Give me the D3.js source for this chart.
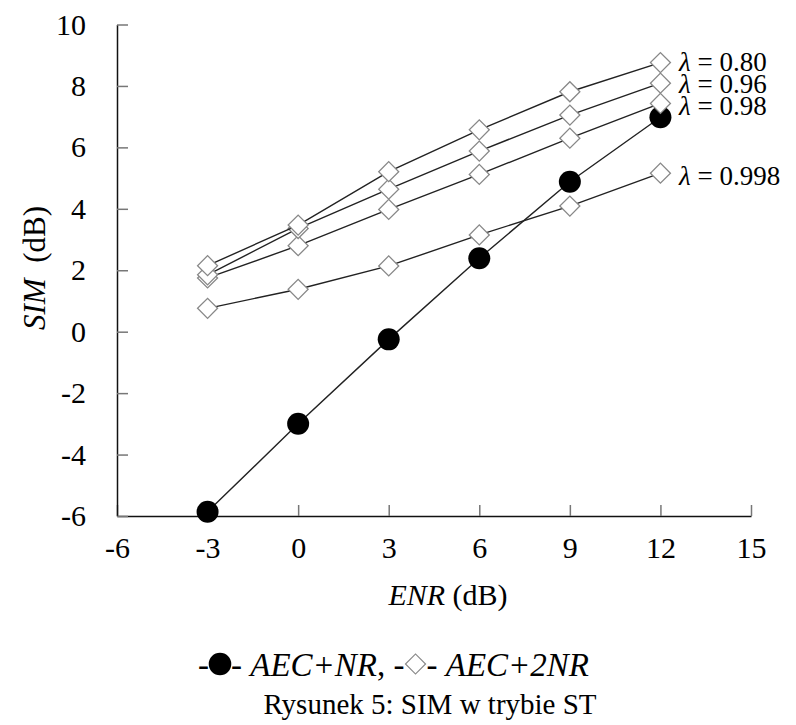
<!DOCTYPE html>
<html>
<head>
<meta charset="utf-8">
<script src="https://cdn.jsdelivr.net/npm/d3@7"></script>
<style>
body { margin:0; background:#fff; }
text { fill:#000; }
.tick line { stroke:#777; stroke-width:1.5; }
.domain { stroke:#111; stroke-width:1.5; }
</style>
</head>
<body>
<div class="container"></div>
<script>
const W = 796, H = 725;
const FONT = "Liberation Serif, Times New Roman, serif";

// data
var enr      = [-3, 0, 3, 6, 9, 12];
var aecNr    = [-5.86, -3.0, -0.25, 2.39, 4.88, 6.98];
var lam080   = [2.15, 3.47, 5.21, 6.57, 7.81, 8.76];
var lam096   = [1.85, 3.36, 4.64, 5.88, 7.05, 8.09];
var lam098   = [1.75, 2.80, 3.98, 5.12, 6.30, 7.43];
var lam0998  = [0.76, 1.38, 2.14, 3.15, 4.09, 5.16];
var lamValues = ["0.80", "0.96", "0.98", "0.998"];
var xTicks = [-6, -3, 0, 3, 6, 9, 12, 15];
var yTicks = [-6, -4, -2, 0, 2, 4, 6, 8, 10];

var svg = d3.select(".container").append("svg")
    .attr("width", W)
    .attr("height", H)
    .attr("font-family", FONT);

var x = d3.scaleLinear().domain([-6, 15]).range([117, 751]);
var y = d3.scaleLinear().domain([-6, 10]).range([516, 24.5]);

// axes, ticks pointing inward
svg.append("g")
    .attr("transform", "translate(0," + y(-6) + ")")
    .call(d3.axisBottom(x).tickValues(xTicks).tickFormat(d => String(d))
        .tickSize(-11).tickSizeOuter(0).tickPadding(21))
    .attr("font-family", FONT).attr("font-size", 30);

svg.append("g")
    .attr("transform", "translate(" + x(-6) + ",0)")
    .call(d3.axisLeft(y).tickValues(yTicks).tickFormat(d => String(d))
        .tickSize(-11).tickSizeOuter(0).tickPadding(31))
    .attr("font-family", FONT).attr("font-size", 30);

var line = d3.line().x((d, i) => x(enr[i])).y(d => y(d));
var diamond = d3.symbol().type(d3.symbolSquare).size(200);
var dot = d3.symbol().type(d3.symbolCircle).size(380);

var drawDiamonds = function(vals) {
    svg.append("path").datum(vals).attr("d", line)
        .attr("fill", "none").attr("stroke", "#222").attr("stroke-width", 1.4);
    svg.selectAll(null).data(vals).enter().append("path")
        .attr("d", diamond)
        .attr("transform", (d, i) => "translate(" + x(enr[i]) + "," + y(d) + ") rotate(45)")
        .attr("fill", "#fff").attr("stroke", "#888").attr("stroke-width", 1.3);
};

var drawDots = function(vals) {
    svg.append("path").datum(vals).attr("d", line)
        .attr("fill", "none").attr("stroke", "#222").attr("stroke-width", 1.4);
    svg.selectAll(null).data(vals).enter().append("path")
        .attr("d", dot)
        .attr("transform", (d, i) => "translate(" + x(enr[i]) + "," + y(d) + ")")
        .attr("fill", "#000");
};

drawDiamonds(lam0998);
drawDots(aecNr);
drawDiamonds(lam098);
drawDiamonds(lam096);
drawDiamonds(lam080);

// lambda labels
var labelY = [62, 84, 106, 176];
lamValues.forEach(function(v, i) {
    var t = svg.append("text").attr("x", 679).attr("y", labelY[i]).attr("dy", "0.35em")
        .attr("font-size", 27);
    t.append("tspan").attr("font-style", "italic").text("\u03bb");
    t.append("tspan").text(" = " + v);
});

// axis titles
var xt = svg.append("text").attr("x", 448).attr("y", 594).attr("dy", "0.35em")
    .attr("text-anchor", "middle").attr("font-size", 30);
xt.append("tspan").attr("font-style", "italic").text("ENR");
xt.append("tspan").text(" (dB)");

var yt = svg.append("text").attr("transform", "translate(34,268) rotate(-90)").attr("dy", "0.35em")
    .attr("text-anchor", "middle").attr("font-size", 31);
yt.append("tspan").attr("font-style", "italic").text("SIM");
yt.append("tspan").text("\u00a0\u00a0(dB)");

// legend
var lg = svg.append("g");
var cx = 198, ly = 664;
var addText = function(t, italic) {
    var tx = lg.append("text").attr("x", cx).attr("y", ly).attr("dy", "0.35em")
        .attr("font-size", 33).attr("font-style", italic ? "italic" : "normal").text(t);
    cx += tx.node().getComputedTextLength();
};
addText("-", false);
lg.append("path").attr("d", d3.symbol().type(d3.symbolCircle).size(400))
    .attr("transform", "translate(" + (cx + 11) + "," + ly + ")").attr("fill", "#000");
cx += 22;
addText("-\u00a0", false);
addText("AEC+NR", true);
addText(", -", false);
lg.append("path").attr("d", d3.symbol().type(d3.symbolSquare).size(200))
    .attr("transform", "translate(" + (cx + 11) + "," + ly + ") rotate(45)")
    .attr("fill", "#fff").attr("stroke", "#888").attr("stroke-width", 1.2);
cx += 22;
addText("-\u00a0", false);
addText("AEC+2NR", true);

svg.append("text").attr("x", 430).attr("y", 704).attr("dy", "0.35em")
    .attr("text-anchor", "middle").attr("font-size", 29).text("Rysunek 5: SIM w trybie ST");
</script>
</body>
</html>
